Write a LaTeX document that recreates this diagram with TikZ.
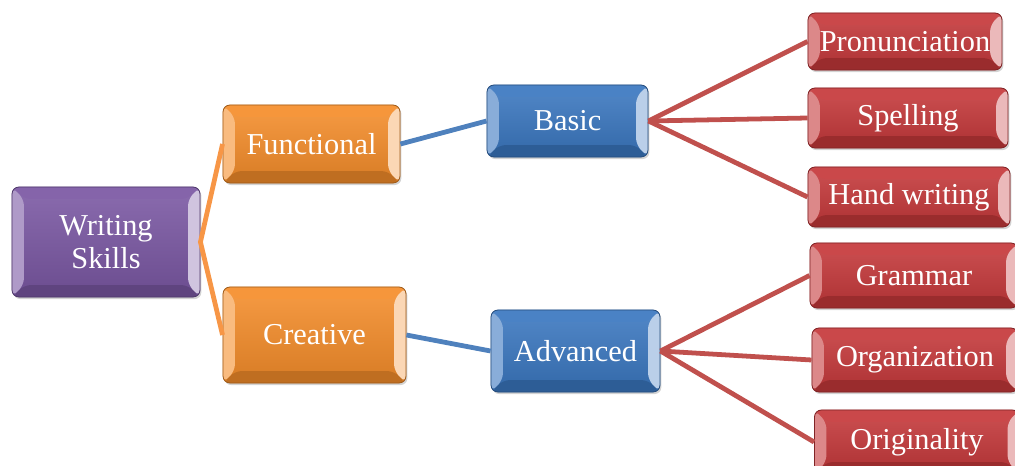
\documentclass[tikz,border=0pt]{standalone}
\usepackage{fontspec}
\setmainfont{Liberation Serif}
\usetikzlibrary{calc,shadows}

\definecolor{wsPurple}{HTML}{7A57A3}
\definecolor{fnOrange}{HTML}{F58D2A}
\definecolor{bsBlue}{HTML}{3A77C0}
\definecolor{lfRed}{HTML}{C5383A}
\definecolor{lnOrange}{HTML}{F79646}
\definecolor{lnBlue}{HTML}{4F81BD}
\definecolor{lnRed}{HTML}{C0504D}

\tikzset{
  bevel/.style={
    path picture={
      \coordinate (bl) at (path picture bounding box.south west);
      \coordinate (tr) at (path picture bounding box.north east);
      \coordinate (tl) at (bl |- tr);
      \coordinate (br) at (tr |- bl);
      \fill [#1!92!white] (tl) -- (tr) -- ($(tr)+(-12,12)$) -- ($(tl)+(12,12)$) -- cycle;
      \fill [#1!78!black] (bl) -- (br) -- ($(br)+(-12,-12)$) -- ($(bl)+(12,-12)$) -- cycle;
      \fill [#1!60!white] (tl) -- (bl) -- ($(bl)+(12,-12)$) -- ($(tl)+(12,12)$) -- cycle;
      \fill [#1!35!white] (tr) -- (br) -- ($(br)+(-12,-12)$) -- ($(tr)+(-12,12)$) -- cycle;
    }},
  box/.style={draw=#1!65!black, line width=0.6pt, rounded corners=5pt,
    top color=#1!88!white, bottom color=#1!88!black, bevel=#1,
    drop shadow={opacity=0.35, shadow xshift=1pt, shadow yshift=-1.5pt},
    text=white, align=center, inner sep=0pt,
    font=\fontsize{21.6}{23}\selectfont},
  link/.style={line width=3.4pt}
}

\begin{document}
\begin{tikzpicture}[x=0.025cm, y=-0.025cm]
\useasboundingbox (0,0) rectangle (1015,466);

% Root
\node [box=wsPurple, minimum width=4.7cm, minimum height=2.75cm] (ws) at (106,242) {Writing\\Skills};

% Second level
\node [box=fnOrange, minimum width=4.425cm, minimum height=1.95cm] (fun) at (311.5,144) {Functional};
\node [box=fnOrange, minimum width=4.575cm, minimum height=2.4cm] (cre) at (314.5,335) {Creative};

% Third level
\node [box=bsBlue, minimum width=4.025cm, minimum height=1.8cm] (bas) at (567.5,121) {Basic};
\node [box=bsBlue, minimum width=4.225cm, minimum height=2.05cm] (adv) at (575.5,351) {Advanced};

% Leaves
\node [box=lfRed, minimum width=4.85cm, minimum height=1.425cm] (pro) at (905,41.5) {Pronunciation};
\node [box=lfRed, minimum width=5cm, minimum height=1.5cm] (spe) at (908,118) {Spelling};
\node [box=lfRed, minimum width=5.05cm, minimum height=1.5cm] (han) at (909,197) {Hand writing};
\node [box=lfRed, minimum width=5.2cm, minimum height=1.625cm] (gra) at (914,275.5) {Grammar};
\node [box=lfRed, minimum width=5.15cm, minimum height=1.6cm] (org) at (915,360) {Organization};
\node [box=lfRed, minimum width=5.125cm, minimum height=1.6cm] (ori) at (917,442) {Originality};

% Connectors
\draw [link, lnOrange] (fun.west) -- (ws.east) -- (cre.west);
\draw [link, lnBlue] (fun.east) -- (bas.west);
\draw [link, lnBlue] (cre.east) -- (adv.west);
\draw [link, lnRed] (bas.east) -- (pro.west);
\draw [link, lnRed] (bas.east) -- (spe.west);
\draw [link, lnRed] (bas.east) -- (han.west);
\draw [link, lnRed] (adv.east) -- (gra.west);
\draw [link, lnRed] (adv.east) -- (org.west);
\draw [link, lnRed] (adv.east) -- (ori.west);

\end{tikzpicture}
\end{document}
